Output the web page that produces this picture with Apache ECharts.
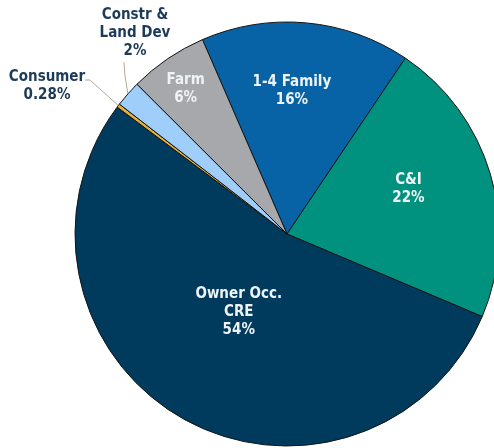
<!DOCTYPE html>
<html>
<head>
<meta charset="utf-8">
<script src="https://cdn.jsdelivr.net/npm/echarts@6/dist/echarts.min.js"></script>
<style>
  html, body { margin: 0; background: #fff; }
  #chart { width: 494px; height: 448px; }
</style>
</head>
<body>
<div id="chart"></div>
<script>
// Loan mix (percent of portfolio), clockwise from the 1-4 Family slice
const categories = ['1-4 Family', 'C&I', 'Owner Occ.\nCRE', 'Consumer', 'Constr &\nLand Dev', 'Farm'];
const shares = [16, 22, 54, 0.28, 2, 6];
const sliceColors = ['#0763a5', '#00927f', '#003a5c', '#e3b23c', '#a0cefa', '#a6a8ab'];
const outsideLabel = [false, false, false, true, true, false];

// nudges for the inside labels, fixed spots for the two outside ones
const labelShift = { 0: [-5, -34], 1: [17, -14], 2: [6, -16], 5: [-40, -55] };
const outsideSpot = {
  3: { x: 47, y: 86, line: [[90, 80], [85, 80]] },
  4: { x: 135, y: 33, line: [[125, 76], [124, 62]] },
};

const chart = echarts.init(document.getElementById('chart'));

const data = categories.map((name, i) => ({
  name: name,
  value: shares[i],
  itemStyle: { color: sliceColors[i] },
  label: outsideLabel[i]
    ? { position: 'outside', color: '#1d3a58' }
    : { position: 'inside', color: '#eef3f6' },
  labelLine: { show: outsideLabel[i] },
}));

chart.setOption({
  animation: false,
  series: [{
    type: 'pie',
    center: [287, 234],
    radius: 212,
    startAngle: 113.5,
    clockwise: true,
    avoidLabelOverlap: false,
    itemStyle: { borderColor: '#141414', borderWidth: 1 },
    label: {
      show: true,
      fontFamily: 'DejaVu Sans Condensed',
      fontWeight: 'bold',
      fontSize: 15,
      lineHeight: 18,
      align: 'center',
      formatter: p => p.name + '\n' + p.value + '%',
    },
    labelLine: {
      lineStyle: { color: '#b3ab98', width: 1 },
      length: 10,
      length2: 5,
    },
    labelLayout: function (params) {
      const i = params.dataIndex;
      if (outsideSpot[i]) {
        const s = outsideSpot[i];
        const start = params.labelLinePoints ? params.labelLinePoints[0] : s.line[0];
        return {
          x: s.x, y: s.y, align: 'center', verticalAlign: 'middle',
          labelLinePoints: [start].concat(s.line),
        };
      }
      const d = labelShift[i] || [0, 0];
      return { dx: d[0], dy: d[1] };
    },
    data: data,
  }],
});
</script>
</body>
</html>
